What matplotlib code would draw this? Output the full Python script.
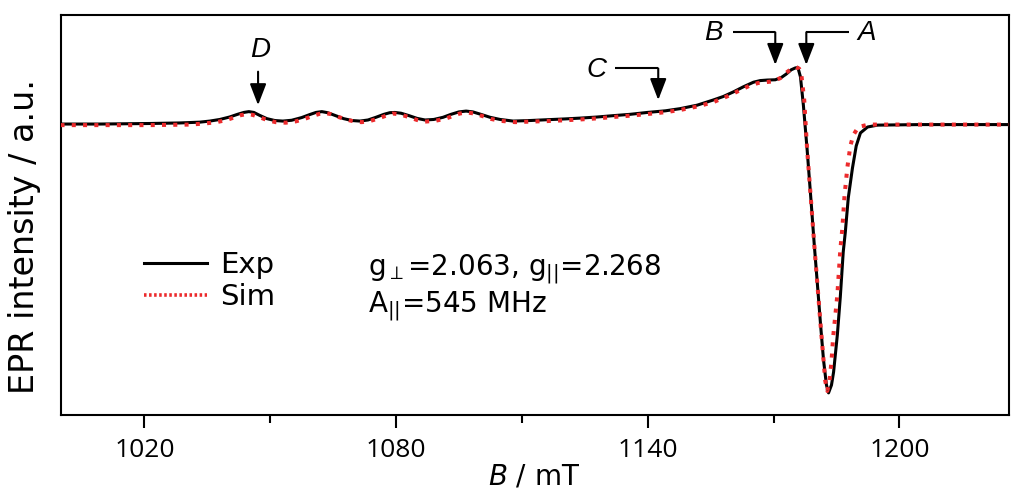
import matplotlib
matplotlib.use("Agg")
import matplotlib.pyplot as plt
from matplotlib.lines import Line2D

plt.rcParams.update({
    'font.family': 'DejaVu Sans',
    'mathtext.fontset': 'dejavusans',
})

# experimental spectrum (B in mT, intensity in a.u., baseline = 0)
b_exp = [1000.0, 1009.3, 1021.2, 1028.4, 1033.2, 1035.6, 1038.0, 1040.3, 1042.2, 1043.7,
         1044.9, 1046.1, 1047.5, 1049.2, 1051.1, 1053.0, 1055.1, 1057.5, 1059.4, 1060.9,
         1062.3, 1063.7, 1065.6, 1067.5, 1069.5, 1071.4, 1073.3, 1075.2, 1077.1, 1078.5,
         1079.7, 1081.2, 1083.1, 1085.0, 1086.9, 1089.0, 1091.2, 1093.1, 1095.0, 1096.7,
         1098.3, 1100.2, 1102.4, 1104.8, 1107.9, 1111.9, 1116.0, 1120.3, 1123.9, 1127.9,
         1131.7, 1135.8, 1139.9, 1144.2, 1147.7, 1151.8, 1155.6, 1158.0, 1160.4, 1162.8,
         1165.2, 1166.8, 1168.5, 1170.4, 1171.8, 1173.0, 1174.2, 1175.2, 1175.8, 1176.4,
         1177.1, 1178.0, 1179.0, 1179.7, 1180.4, 1181.2, 1181.9, 1182.6, 1183.1, 1183.8,
         1184.3, 1185.2, 1185.9, 1186.6, 1187.1, 1187.8, 1188.8, 1189.7, 1190.7, 1192.4,
         1194.8, 1205.0, 1214.6, 1226.0]
i_exp = [0.000, 0.000, 0.002, 0.004, 0.007, 0.011, 0.017, 0.026, 0.036, 0.043,
         0.046, 0.043, 0.032, 0.020, 0.013, 0.011, 0.014, 0.024, 0.035, 0.043,
         0.046, 0.042, 0.031, 0.020, 0.013, 0.011, 0.015, 0.025, 0.036, 0.042,
         0.043, 0.040, 0.031, 0.021, 0.015, 0.017, 0.025, 0.036, 0.045, 0.048,
         0.045, 0.036, 0.025, 0.017, 0.011, 0.013, 0.016, 0.019, 0.022, 0.026,
         0.031, 0.036, 0.043, 0.049, 0.057, 0.070, 0.089, 0.102, 0.119, 0.138,
         0.155, 0.161, 0.163, 0.164, 0.172, 0.185, 0.201, 0.208, 0.209, 0.175,
         0.070, -0.096, -0.300, -0.448, -0.585, -0.744, -0.874, -0.967, -0.996, -0.967,
         -0.919, -0.781, -0.641, -0.474, -0.400, -0.274, -0.163, -0.081, -0.033, -0.011,
         -0.004, -0.002, -0.002, -0.002]

# simulated spectrum
b_sim = [1000.0, 1021.2, 1030.8, 1034.4, 1037.2, 1039.6, 1041.5, 1043.0, 1044.4, 1045.8,
         1047.5, 1049.4, 1051.3, 1053.7, 1056.1, 1058.2, 1060.1, 1061.8, 1063.0, 1064.4,
         1066.3, 1068.3, 1070.2, 1071.8, 1073.7, 1075.7, 1077.6, 1079.2, 1080.9, 1082.8,
         1085.0, 1086.9, 1089.3, 1091.6, 1093.6, 1095.2, 1096.9, 1098.6, 1100.5, 1102.6,
         1104.8, 1108.4, 1111.9, 1116.0, 1120.3, 1123.9, 1127.9, 1131.7, 1135.8, 1139.9,
         1144.2, 1147.7, 1151.8, 1155.6, 1159.0, 1162.1, 1164.4, 1166.3, 1168.0, 1169.7,
         1171.6, 1173.0, 1174.2, 1175.4, 1176.1, 1176.6, 1177.3, 1178.0, 1179.0, 1179.7,
         1180.4, 1181.2, 1181.9, 1182.3, 1182.8, 1183.3, 1183.8, 1184.2, 1185.2, 1185.9,
         1186.4, 1186.9, 1187.6, 1188.3, 1189.0, 1190.2, 1192.6, 1226.0]
i_sim = [-0.004, -0.004, -0.002, 0.002, 0.007, 0.015, 0.025, 0.033, 0.037, 0.034,
         0.025, 0.014, 0.007, 0.005, 0.010, 0.019, 0.030, 0.038, 0.041, 0.037,
         0.026, 0.016, 0.009, 0.007, 0.011, 0.020, 0.031, 0.039, 0.036, 0.027,
         0.015, 0.009, 0.012, 0.019, 0.030, 0.039, 0.043, 0.039, 0.030, 0.019,
         0.012, 0.007, 0.009, 0.011, 0.014, 0.017, 0.021, 0.026, 0.031, 0.037,
         0.044, 0.052, 0.065, 0.081, 0.103, 0.126, 0.143, 0.152, 0.155, 0.158,
         0.170, 0.190, 0.204, 0.211, 0.205, 0.185, 0.089, -0.096, -0.300, -0.448,
         -0.585, -0.744, -0.874, -0.950, -0.989, -0.955, -0.880, -0.789, -0.633, -0.467,
         -0.385, -0.267, -0.159, -0.081, -0.041, -0.011, -0.002, -0.002]

major_ticks = [1020, 1080, 1140, 1200]
minor_ticks = [1050, 1110, 1170]

# feature markers: label, label x/y, elbow start x, arrow x, arrow top y, arrow tip y
marks = ['D', 'C', 'B', 'A']
mark_lx = [1047.5, 1127.7, 1155.6, 1192.1]
mark_ly = [0.274, 0.200, 0.337, 0.337]
mark_x0 = [None, 1132.2, 1160.3, 1187.9]
mark_x1 = [1047.1, 1142.5, 1170.4, 1177.8]
mark_top = [0.194, 0.206, 0.340, 0.340]
mark_tip = [0.070, 0.089, 0.219, 0.219]

red = '#ec2a2c'

fig = plt.figure(figsize=(10.11, 4.91), dpi=100)
ax = fig.add_axes([60.5 / 1011, 76 / 491, 948 / 1011, 400 / 491])

ax.plot(b_exp, i_exp, color='black', lw=2.2, zorder=2)
ax.plot(b_sim, i_sim, color=red, lw=2.9, ls=(0, (1, 1.8)), zorder=3)

for lab, lx, ly, x0, x1, yt, yp in zip(marks, mark_lx, mark_ly, mark_x0, mark_x1, mark_top, mark_tip):
    if x0 is not None:
        ax.plot([x0, x1], [yt, yt], color='black', lw=1.5, solid_capstyle='butt')
    ax.annotate('', xy=(x1, yp), xytext=(x1, yt),
                arrowprops=dict(arrowstyle='-|>,head_length=0.65,head_width=0.25',
                                mutation_scale=20, color='black', lw=1.5,
                                shrinkA=0, shrinkB=0))
    ax.text(lx, ly, lab, fontsize=20, style='italic', family='Liberation Sans',
            ha='center', va='center')

ax.set_xlim(1000, 1226)
ax.set_ylim(-1.078, 0.404)
ax.set_xticks(major_ticks)
ax.set_xticks(minor_ticks, minor=True)
ax.set_yticks([])
ax.tick_params(axis='x', which='major', direction='out', length=9.4, width=1.5,
               labelsize=19, pad=7)
ax.tick_params(axis='x', which='minor', direction='out', length=5.8, width=1.5)
for t in ax.get_xticklabels():
    t.set_family('Open Sans')
for s in ax.spines.values():
    s.set_linewidth(1.5)

ax.set_xlabel(r'$\it{B}$ / mT', fontsize=20, labelpad=0)
ax.set_ylabel('EPR intensity / a.u.', fontsize=24, va='center')
ax.yaxis.set_label_coords(-0.0375, 0.4475)

handles = [Line2D([], [], color='black', lw=2.2),
           Line2D([], [], color=red, lw=2.6, ls=(0, (0.7, 0.7)))]
ax.legend(handles, ['Exp', 'Sim'], loc='center left', bbox_to_anchor=(0.088, 0.335),
          frameon=False, fontsize=21, handlelength=2.15, handletextpad=0.45,
          labelspacing=0.12, borderpad=0, borderaxespad=0)

ax.text(0.324, 0.35, r'g$_{\perp}$=2.063, g$_{||}$=2.268', transform=ax.transAxes,
        fontsize=20, va='baseline', ha='left')
ax.text(0.324, 0.2575, r'A$_{||}$=545 MHz', transform=ax.transAxes,
        fontsize=20, va='baseline', ha='left')

fig.savefig('out.png', dpi=100)
